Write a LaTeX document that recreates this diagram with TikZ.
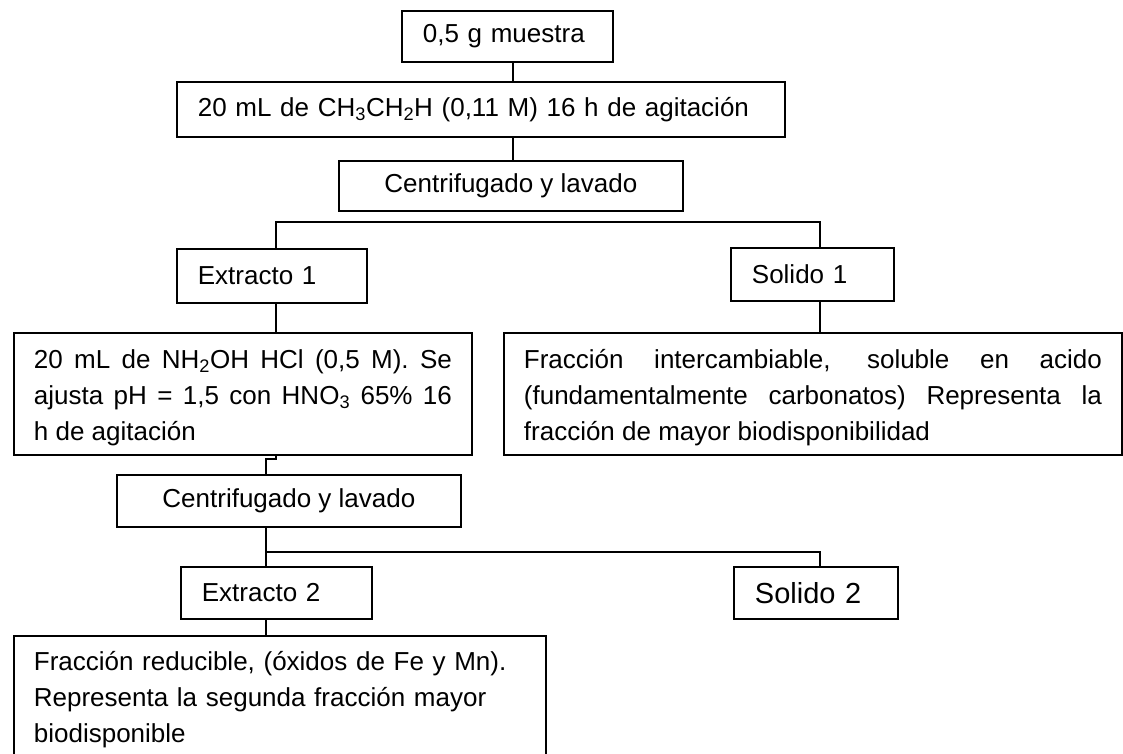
\documentclass[tikz,border=0pt]{standalone}
\usepackage{fontspec}
\setmainfont{Liberation Sans}
\usepackage{tikz}
\usetikzlibrary{calc}
\tolerance=10000
\hyphenpenalty=10000

\begin{document}
\begin{tikzpicture}[x=1pt, y=-1pt, line width=1.8pt,
every node/.style={font=\fontsize{26}{36}\selectfont},
box/.style={draw, anchor=north west, inner xsep=21pt, inner ysep=0pt, align=left},
cbox/.style={draw, anchor=north west, inner sep=0pt, align=center},
jbox/.style={draw, anchor=north west, inner xsep=20pt, inner ysep=0pt, align=justify, text height=27pt}
]
\useasboundingbox (0,0) rectangle (1123,754);

\node (sample) [box, text width=169pt, minimum height=51pt] at (401,10) {0,5 g muestra};
\node (mix1) [box, text width=566pt, minimum height=55pt] at (176,81) {20 mL de CH\textsubscript{3}CH\textsubscript{2}H (0,11 M) 16 h de agitación};
\node (cent1) [cbox, minimum width=344pt, minimum height=50pt] at (338,160) {Centrifugado y lavado};
\node (ext1) [box, text width=148pt, minimum height=54pt] at (176,248) {Extracto 1};
\node (sol1) [box, text width=121pt, minimum height=53pt] at (730,247) {Solido 1};

\node (reag2) [jbox, text width=418pt, minimum height=122pt] at (13,332) {20 mL de NH\textsubscript{2}OH HCl (0,5 M). Se\linebreak ajusta pH = 1,5 con HNO\textsubscript{3} 65\% 16\linebreak h de agitación};
\node (frac1) [jbox, text width=578pt, minimum height=122pt] at (503,332) {Fracción intercambiable, soluble en acido\linebreak (fundamentalmente carbonatos) Representa la\linebreak fracción de mayor biodisponibilidad};

\node (cent2) [cbox, minimum width=344pt, minimum height=52pt] at (116,474) {Centrifugado y lavado};
\node (ext2) [box, text width=149pt, minimum height=52pt] at (180,566) {Extracto 2};
\node (sol2) [box, text width=122pt, minimum height=52pt, font=\fontsize{29}{36}\selectfont] at (733,566) {Solido 2};
\node (frac2) [box, inner xsep=20pt, text width=492pt, minimum height=128pt] at (13,635) {Fracción reducible, (óxidos de Fe y Mn).\\ Representa la segunda fracción mayor\\ biodisponible};

\coordinate (trunk) at (513,0);
\coordinate (left1) at (276,222);
\coordinate (right1) at (820,222);
\coordinate (left2) at (266,552);
\coordinate (right2) at (820,552);

\draw (sample.south -| trunk) -- (mix1.north -| trunk);
\draw (mix1.south -| trunk) -- (cent1.north -| trunk);

\draw (ext1.north -| left1) -- (left1) -- (right1) -- (sol1.north -| right1);
\draw (ext1.south -| left1) -- (reag2.north -| left1);
\draw (sol1.south -| right1) -- (frac1.north -| right1);

\draw (reag2.south -| left1) -- ++(0,3) -| (cent2.north -| left2);
\draw (cent2.south -| left2) -- (ext2.north -| left2);
\draw (left2) -- (right2) -- (sol2.north -| right2);
\draw (ext2.south -| left2) -- (frac2.north -| left2);

\end{tikzpicture}
\end{document}
